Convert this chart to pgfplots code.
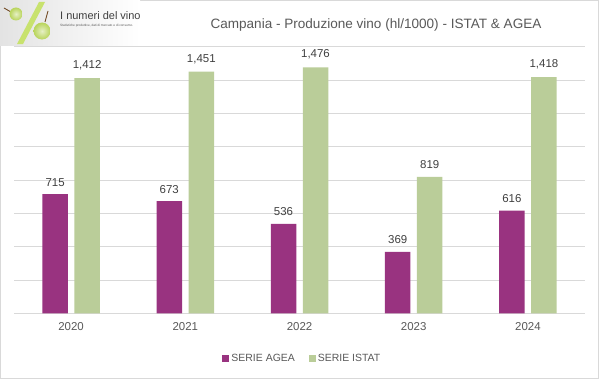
\documentclass[border=0pt]{standalone}
\usepackage{pgfplots}
\pgfplotsset{compat=1.18}
\usepackage{fontspec}
\setmainfont{Liberation Sans}
\definecolor{agea}{RGB}{153,51,128}
\definecolor{istat}{RGB}{186,205,153}
\definecolor{gridc}{RGB}{217,217,217}
\definecolor{txt}{RGB}{89,89,89}
\definecolor{lbl}{RGB}{64,64,64}
\definecolor{lime}{RGB}{200,226,110}
\definecolor{grape}{RGB}{184,212,90}
\begin{document}
\begin{tikzpicture}[x=1bp,y=1bp]
\fill[white] (0,0) rectangle (600,379);
\draw[gridc, line width=1bp] (0.5,0.5) rectangle (598.5,378.5);
% logo
\shade[left color=gray!22, right color=white] (0,334) rectangle (140,379);
\fill[lime] (17,335) -- (23,335) -- (45,377) -- (39,377) -- cycle;
\draw[brown!60!black, line width=0.9bp] (4,371) -- (11,367);
\shade[inner color=grape!35, outer color=grape] (16,365) circle (6.5);
\draw[brown!60!black, line width=0.9bp] (45,357) -- (48,368);
\shade[inner color=grape!35, outer color=grape] (42,348) circle (8.5);
\node[anchor=west, inner sep=0, font=\fontsize{11}{12}\selectfont, text=lbl] at (60,363) {I numeri del vino};
\node[anchor=west, inner sep=0, font=\fontsize{3.2}{4}\selectfont, text=txt] at (60,353) {Statistiche produttive, dati di mercato e di consumo.};
% title
\node[font=\fontsize{13.6}{15}\selectfont, text=txt] at (376,354) {Campania - Produzione vino (hl/1000) - ISTAT \& AGEA};
\begin{axis}[
  at={(14bp,65.7bp)}, anchor=south west,
  scale only axis, width=571bp, height=266.6bp,
  xmin=-0.5, xmax=4.5, ymin=0, ymax=1600,
  ytick={0,200,...,1600}, yticklabels={},
  ymajorgrids, major grid style={gridc, line width=0.8bp},
  major tick length=0pt,
  axis line style={draw=none},
  xtick={0,1,2,3,4}, xticklabels={2020,2021,2022,2023,2024},
  xticklabel style={font=\fontsize{11.5}{13}\selectfont, text=txt, yshift=-6bp},
  ybar, bar width=25.5bp,
  nodes near coords,
  nodes near coords style={font=\fontsize{11.5}{13}\selectfont, text=lbl, yshift=4.5bp, /pgf/number format/.cd, 1000 sep={,}, fixed, assume math mode=true},
  clip=false,
  legend style={at={(axis description cs:0.505,-0.169)}, anchor=center, draw=none, fill=none,
    legend columns=2, font=\fontsize{10.5}{12}\selectfont, text=txt,
    /tikz/every even column/.append style={column sep=12bp},
    nodes={inner sep=2bp}},
  legend image code/.code={\path[#1,draw=none] (0bp,-3.5bp) rectangle (7bp,3.5bp);},
]
\addplot[fill=agea, draw=none, bar shift=-16bp] coordinates {(0,715) (1,673) (2,536) (3,369) (4,616)};
\addplot[fill=istat, draw=none, bar shift=16bp] coordinates {(0,1412) (1,1451) (2,1476) (3,819) (4,1418)};
\legend{SERIE AGEA, SERIE ISTAT}
\end{axis}
\end{tikzpicture}
\end{document}
